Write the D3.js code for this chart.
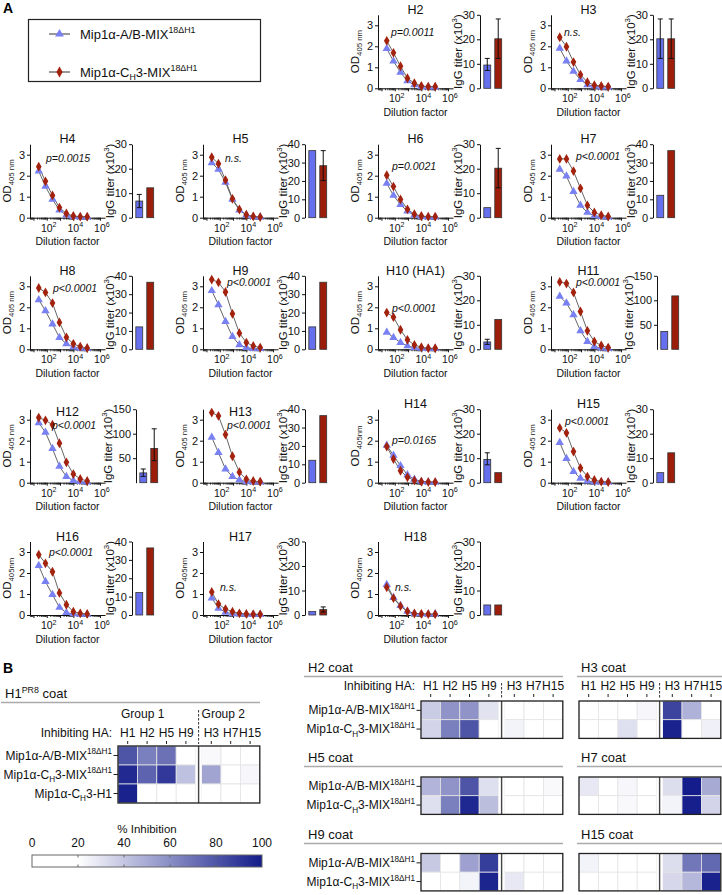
<!DOCTYPE html>
<html>
<head>
<meta charset="utf-8">
<script src="https://cdn.jsdelivr.net/npm/d3@7"></script>
<style>
  body { margin: 0; background: #fff; }
  svg { display: block; font-family: "Liberation Sans", Arial, sans-serif; }
</style>
</head>
<body>
<svg id="fig" width="722" height="895"></svg>
<script>
// ---------- data ----------
const panels = ["H2", "H3", "H4", "H5", "H6", "H7", "H8", "H9", "H10", "H11", "H12", "H13", "H14", "H15", "H16", "H17", "H18"];
const panelTitles = ["H2", "H3", "H4", "H5", "H6", "H7", "H8", "H9", "H10 (HA1)", "H11", "H12", "H13", "H14", "H15", "H16", "H17", "H18"];
const pLabels = ["p=0.0011", "n.s.", "p=0.0015", "n.s.", "p=0.0021", "p<0.0001", "p<0.0001", "p<0.0001", "p<0.0001",
  "p<0.0001", "p<0.0001", "p<0.0001", "p=0.0165", "p<0.0001", "p<0.0001", "n.s.", "n.s."];

const dilutions = [25, 80, 270, 900, 3000, 10000, 33000, 110000];

// OD405 readings, Mip1α-A/B-MIX (blue)
const odAB = [
  [1.89, 1.29, 0.76, 0.35, 0.16, 0.08, 0.06, 0.06],
  [1.90, 1.30, 0.81, 0.41, 0.16, 0.10, 0.06, 0.06],
  [2.22, 1.49, 0.87, 0.36, 0.12, 0.05, 0.03, 0.03],
  [2.61, 2.30, 1.68, 0.87, 0.36, 0.12, 0.05, 0.03],
  [1.63, 1.06, 0.62, 0.31, 0.12, 0.05, 0.03, 0.03],
  [2.30, 1.98, 1.24, 0.59, 0.25, 0.09, 0.05, 0.03],
  [2.36, 1.83, 1.20, 0.56, 0.26, 0.10, 0.05, 0.03],
  [2.79, 2.12, 1.32, 0.61, 0.21, 0.08, 0.03, 0.03],
  [0.81, 0.56, 0.32, 0.16, 0.08, 0.05, 0.03, 0.03],
  [2.52, 2.20, 1.64, 0.88, 0.37, 0.13, 0.06, 0.03],
  [2.85, 2.40, 1.62, 0.78, 0.29, 0.10, 0.05, 0.03],
  [2.16, 1.43, 0.65, 0.29, 0.13, 0.05, 0.03, 0.03],
  [1.78, 1.30, 0.81, 0.37, 0.16, 0.06, 0.03, 0.03],
  [1.91, 1.15, 0.53, 0.21, 0.08, 0.03, 0.03, 0.03],
  [2.35, 1.59, 0.97, 0.36, 0.11, 0.05, 0.03, 0.03],
  [0.81, 0.32, 0.13, 0.06, 0.05, 0.03, 0.03, 0.03],
  [1.45, 0.83, 0.45, 0.17, 0.07, 0.05, 0.04, 0.04]
];
// OD405 readings, Mip1α-CH3-MIX (red)
const odCH3 = [
  [2.26, 1.69, 1.05, 0.48, 0.24, 0.11, 0.08, 0.08],
  [2.43, 1.98, 1.25, 0.65, 0.29, 0.15, 0.11, 0.08],
  [2.43, 1.73, 1.06, 0.48, 0.20, 0.08, 0.05, 0.05],
  [2.88, 2.57, 1.79, 0.90, 0.39, 0.14, 0.06, 0.03],
  [2.02, 1.48, 0.87, 0.40, 0.17, 0.08, 0.05, 0.05],
  [2.80, 2.80, 2.22, 1.40, 0.59, 0.25, 0.12, 0.06],
  [2.92, 2.71, 2.20, 1.28, 0.57, 0.26, 0.13, 0.06],
  [3.32, 3.19, 2.73, 1.69, 0.77, 0.32, 0.16, 0.08],
  [1.75, 1.53, 0.93, 0.45, 0.21, 0.10, 0.05, 0.05],
  [3.21, 3.13, 2.71, 1.80, 0.88, 0.37, 0.18, 0.08],
  [3.10, 2.97, 2.76, 1.88, 0.97, 0.41, 0.18, 0.08],
  [3.34, 3.18, 2.29, 1.26, 0.50, 0.16, 0.08, 0.05],
  [1.72, 1.13, 0.57, 0.26, 0.11, 0.05, 0.03, 0.03],
  [2.61, 2.37, 1.48, 0.70, 0.29, 0.13, 0.05, 0.03],
  [2.87, 2.46, 2.06, 1.05, 0.49, 0.16, 0.08, 0.05],
  [1.10, 0.52, 0.28, 0.16, 0.08, 0.05, 0.03, 0.03],
  [1.32, 0.80, 0.42, 0.17, 0.07, 0.05, 0.04, 0.04]
];

// IgG titers (x10^3)
const titerAB  = [9.5, 20.2, 6.8, 36.5, 4.1, 12.2, 12.2, 12.2, 3.0, 36.5, 20, 12.2, 9.5, 4.1, 12.2, 1.4, 4.1];
const titerCH3 = [20.2, 20.2, 12.2, 28.3, 20.2, 36.5, 36.5, 36.5, 12.2, 109, 70, 36.5, 4.1, 12.2, 36.5, 2.2, 4.1];
const errAB  = [[7.3, 12.2], [12.2, 28.3], [4.1, 9.5], null, null, null, null, null, [2.0, 4.1], null, [13, 28], null, [7.3, 12.2], null, null, null, null];
const errCH3 = [[12.2, 28.3], [12.2, 28.3], null, [20.2, 36.5], [12.2, 28.3], null, null, null, null, null, [45, 110], null, null, null, null, [1.2, 3.3], null];
const titerMax = [30, 30, 30, 40, 30, 40, 40, 40, 30, 150, 150, 40, 30, 30, 40, 30, 30];

// % inhibition heat maps
const inhibitingHA = ["H1", "H2", "H5", "H9", "H3", "H7", "H15"];
const inhH1PR8 = [[80, 65, 70, 5, 22, 0, 0], [95, 75, 90, 42, 52, 0, 23], [98, 0, 0, 0, 0, 0, 0]];
const inhH2  = [[38, 58, 58, 30, 0, 0, 0], [35, 65, 80, 0, 24, 0, 0]];
const inhH3  = [[0, 0, 0, 23, 86, 47, 0], [0, 0, 31, 0, 98, 0, 25]];
const inhH5  = [[46, 58, 80, 31, 0, 0, 22], [31, 65, 96, 43, 0, 0, 0]];
const inhH7  = [[28, 0, 23, 0, 32, 100, 50], [0, 0, 22, 0, 24, 99, 35]];
const inhH9  = [[39, 0, 53, 88, 0, 0, 0], [0, 0, 24, 97, 28, 0, 0]];
const inhH15 = [[24, 0, 0, 0, 32, 68, 73], [0, 0, 0, 0, 34, 45, 98]];
const colorbarTicks = [0, 20, 40, 60, 80, 100];

// ---------- layout ----------
const svg = d3.select("#fig");
const BLUE = "#7880f2", RED = "#a3220e", BAR_BLUE = "#6670ee", BAR_RED = "#9c1d0a";
const LW = 75, LH = 73.5, ODMAX = 3.5;
const colX = [30, 203, 378, 551];
const rowZero = [88.3, 217.7, 349.3, 482.7, 615];
const gridPos = [[0, 2], [0, 3], [1, 0], [1, 1], [1, 2], [1, 3], [2, 0], [2, 1], [2, 2], [2, 3], [3, 0], [3, 1], [3, 2], [3, 3], [4, 0], [4, 1], [4, 2]];
// title drop below the axis top (px), p-label placement: [px from y axis, OD level]
const titleDrop = [0, 0, 0, 0, 0, 0, 0, 0, 0, 0, 8, 8, 0, 0, 0, 0, 0];
const pLabelPos = [[13, 2.48], [13, 2.48], [16, 2.64], [22, 2.64], [14, 2.27], [25, 2.75], [23, 2.74], [24, 3.0], [14, 1.78],
  [25, 3.0], [22, 2.58], [24, 2.58], [14, 1.83], [14, 2.77], [19, 2.8], [17, 1.13], [17, 1.13]];
const odNoSpace = ["H14", "H16", "H17", "H18"];

// text with sub/superscripts: parts = [[text, "sup"|"sub"|undefined], ...]
function rich(text, parts, size) {
  let cur = 0;
  parts.forEach(([t, k]) => {
    const tgt = k === "sup" ? -0.42 * size : k === "sub" ? 0.3 * size : 0;
    text.append("tspan")
      .attr("dy", (tgt - cur).toFixed(2))
      .attr("font-size", k ? size * 0.68 : size)
      .text(t);
    cur = tgt;
  });
  return text;
}

function styleAxis(ax, size) {
  ax.attr("font-family", null).attr("font-size", size);
  ax.selectAll("path, line").attr("stroke", "#111").attr("stroke-width", 1);
  ax.selectAll("text").attr("fill", "#111");
}

// ---------- panel A ----------
svg.append("text").attr("x", 3).attr("y", 13).attr("font-size", 14).attr("font-weight", "bold").text("A");

// legend
const leg = svg.append("g");
leg.append("rect").attr("x", 28.5).attr("y", 19.5).attr("width", 232).attr("height", 62)
  .attr("fill", "none").attr("stroke", "#222").attr("stroke-width", 1.2);
[[BLUE, d3.symbolTriangle, 34, [["Mip1α-A/B-MIX"], ["18ΔH1", "sup"]]],
 [RED, d3.symbolDiamond, 72, [["Mip1α-C"], ["H", "sub"], ["3-MIX"], ["18ΔH1", "sup"]]]]
  .forEach(([col, sym, yy, parts]) => {
    leg.append("line").attr("x1", 49).attr("x2", 70).attr("y1", yy).attr("y2", yy).attr("stroke", "#333").attr("stroke-width", 1);
    leg.append("path").attr("d", d3.symbol(sym).size(34)).attr("transform", `translate(59.5,${yy})`).attr("fill", col);
    rich(leg.append("text").attr("x", 80).attr("y", yy + 4.5).attr("fill", "#111"), parts, 13);
  });

function drawPanel(i) {
  const [r, c] = gridPos[i];
  const g = svg.append("g").attr("transform", `translate(${colX[c]},${rowZero[r] - LH})`);
  const x = d3.scaleLog().domain([10 ** 0.74, 10 ** 6.38]).range([0, LW]);
  const y = d3.scaleLinear().domain([0, ODMAX]).range([LH, 0]);

  g.append("text").attr("x", LW / 2).attr("y", -1 + titleDrop[i]).attr("text-anchor", "middle")
    .attr("font-size", 12.5).attr("fill", "#111").text(panelTitles[i]);

  const ya = g.append("g").call(d3.axisLeft(y).tickValues([0, 1, 2, 3]).tickSize(3).tickSizeOuter(0).tickPadding(2).tickFormat(d3.format("d")));
  styleAxis(ya, 11);

  const xa = g.append("g").attr("transform", `translate(0,${LH})`)
    .call(d3.axisBottom(x).tickValues([10, 100, 1e3, 1e4, 1e5, 1e6]).tickSize(3).tickSizeOuter(0).tickFormat(""));
  styleAxis(xa, 10);
  const minors = [];
  for (let k = 0; k < 6; k++) for (let m = 2; m < 10; m++) {
    const v = m * 10 ** k;
    if (v > x.domain()[0] && v < x.domain()[1]) minors.push(v);
  }
  xa.selectAll("line.minor").data(minors).join("line").attr("class", "minor")
    .attr("x1", d => x(d)).attr("x2", d => x(d)).attr("y1", 0).attr("y2", 2)
    .attr("stroke", "#111").attr("stroke-width", 0.8);
  [2, 4, 6].forEach(e => {
    rich(g.append("text").attr("x", x(10 ** e) + 2).attr("y", LH + 14).attr("text-anchor", "middle").attr("fill", "#111"),
      [["10"], [String(e), "sup"]], 10.5);
  });
  g.append("text").attr("x", LW / 2).attr("y", LH + 27.5).attr("text-anchor", "middle")
    .attr("font-size", 10.5).attr("fill", "#111").text("Dilution factor");

  const sub = odNoSpace.includes(panels[i]) ? "405nm" : "405 nm";
  rich(g.append("text").attr("transform", `translate(-19,${LH / 2}) rotate(-90)`).attr("text-anchor", "middle").attr("fill", "#111"),
    [["OD"], [sub, "sub"]], 11.5);

  const line = d3.line().x(d => x(d[0])).y(d => y(d[1]));
  [odAB[i], odCH3[i]].forEach(vals => {
    g.append("path").datum(dilutions.map((d, j) => [d, vals[j]])).attr("d", line)
      .attr("fill", "none").attr("stroke", "#555").attr("stroke-width", 0.9);
  });
  g.selectAll("path.ab").data(dilutions.map((d, j) => [d, odAB[i][j]])).join("path").attr("class", "ab")
    .attr("d", d3.symbol(d3.symbolTriangle).size(30)).attr("fill", BLUE)
    .attr("transform", d => `translate(${x(d[0])},${y(d[1])})`);
  g.selectAll("path.ch").data(dilutions.map((d, j) => [d, odCH3[i][j]])).join("path").attr("class", "ch")
    .attr("d", d3.symbol(d3.symbolDiamond).size(28)).attr("fill", RED)
    .attr("transform", d => `translate(${x(d[0])},${y(d[1])})`);

  g.append("text").attr("x", pLabelPos[i][0]).attr("y", y(pLabelPos[i][1])).attr("font-size", 10.5)
    .attr("font-style", "italic").attr("fill", "#111").text(pLabels[i]);

  // bar chart of titers
  const wide = titerMax[i] > 100;
  const bg = g.append("g").attr("transform", `translate(${wide ? 106 : 102},0)`);
  const by = d3.scaleLinear().domain([0, titerMax[i]]).range([LH, 0]);
  const bx = d3.scaleBand().domain(["ab", "ch"]).range([2.5, 23]).paddingInner(0.37).paddingOuter(0.12);
  const ticks = wide ? [50, 100, 150] : d3.range(0, titerMax[i] + 1, 10);
  const ba = bg.append("g").call(d3.axisLeft(by).tickValues(ticks).tickSize(3).tickSizeOuter(0).tickPadding(2));
  styleAxis(ba, 11);
  const bars = [["ab", titerAB[i], errAB[i], BAR_BLUE], ["ch", titerCH3[i], errCH3[i], BAR_RED]];
  bars.forEach(([k, v, err, col]) => {
    bg.append("rect").attr("x", bx(k)).attr("width", bx.bandwidth()).attr("y", by(v)).attr("height", LH - by(v))
      .attr("fill", col).attr("stroke", "#333").attr("stroke-width", 0.8);
    if (err) {
      const cx = bx(k) + bx.bandwidth() / 2;
      const eb = bg.append("g").attr("stroke", "#111").attr("stroke-width", 1);
      eb.append("line").attr("x1", cx).attr("x2", cx).attr("y1", by(err[0])).attr("y2", by(err[1]));
      [err[0], err[1]].forEach(e => eb.append("line").attr("x1", cx - 2.5).attr("x2", cx + 2.5).attr("y1", by(e)).attr("y2", by(e)));
    }
  });
  rich(bg.append("text").attr("transform", `translate(${wide ? -24 : -18},${LH / 2}) rotate(-90)`).attr("text-anchor", "middle").attr("fill", "#111"),
    [["IgG titer (x10"], ["3", "sup"], [")"]], 11.5);
}
panels.forEach((p, i) => drawPanel(i));

// ---------- panel B ----------
svg.append("text").attr("x", 3).attr("y", 673).attr("font-size", 14).attr("font-weight", "bold").text("B");

const heatColor = d3.scaleLinear().domain([20, 100]).range(["#ffffff", "#131c8a"]).clamp(true);
const CW = 19.4, GAP = 6, NW = 7 * CW + GAP;
const cellX = j => j < 4 ? j * CW : 4 * CW + GAP + (j - 4) * CW;
const divX = 4 * CW + GAP / 2;
const rowLabels = [
  [["Mip1α-A/B-MIX"], ["18ΔH1", "sup"]],
  [["Mip1α-C"], ["H", "sub"], ["3-MIX"], ["18ΔH1", "sup"]],
  [["Mip1α-C"], ["H", "sub"], ["3-H1"]]
];

function section(x, yBase, lineX2, parts) {
  rich(svg.append("text").attr("x", x).attr("y", yBase).attr("fill", "#111"), parts, 13);
  svg.append("line").attr("x1", x - 4).attr("x2", lineX2).attr("y1", yBase + 4.5).attr("y2", yBase + 4.5)
    .attr("stroke", "#aaa").attr("stroke-width", 1.6);
}

function heat(x0, y0, ch, vals, opt) {
  const g = svg.append("g").attr("transform", `translate(${x0},${y0})`);
  const hh = ch * vals.length;
  vals.forEach((row, ri) => row.forEach((v, j) => {
    g.append("rect").attr("x", cellX(j)).attr("y", ri * ch).attr("width", CW).attr("height", ch)
      .attr("fill", heatColor(v)).attr("stroke", "#e4e4e4").attr("stroke-width", 0.8);
  }));
  g.append("rect").attr("x", cellX(3) + CW).attr("y", 0).attr("width", GAP).attr("height", hh).attr("fill", "#fff");
  g.append("line").attr("x1", divX).attr("x2", divX).attr("y1", 0).attr("y2", hh).attr("stroke", "#444").attr("stroke-width", 1.4);
  g.append("rect").attr("x", 0).attr("y", 0).attr("width", NW).attr("height", hh)
    .attr("fill", "none").attr("stroke", "#222").attr("stroke-width", 1.3);
  if (opt.rows) {
    vals.forEach((row, ri) => {
      const cy = ri * ch + ch / 2;
      rich(g.append("text").attr("x", -6).attr("y", cy + 4).attr("text-anchor", "end").attr("fill", "#111"), rowLabels[ri], 12);
      g.append("line").attr("x1", -4.5).attr("x2", 0).attr("y1", cy).attr("y2", cy).attr("stroke", "#222");
    });
  }
  if (opt.cols) {
    inhibitingHA.forEach((h, j) => {
      const cx = cellX(j) + CW / 2;
      g.append("text").attr("x", cx).attr("y", -opt.colGap).attr("text-anchor", "middle").attr("font-size", 12).attr("fill", "#111").text(h);
      g.append("line").attr("x1", cx).attr("x2", cx).attr("y1", -opt.colGap + 4).attr("y2", -opt.colGap + 7).attr("stroke", "#222");
    });
    g.append("line").attr("x1", divX).attr("x2", divX).attr("y1", -opt.dashTop).attr("y2", -2)
      .attr("stroke", "#333").attr("stroke-width", 1).attr("stroke-dasharray", "2.5,1.5");
    if (opt.inhib) g.append("text").attr("x", -6).attr("y", -opt.colGap).attr("text-anchor", "end").attr("font-size", 12).attr("fill", "#111").text("Inhibiting HA:");
    if (opt.groups) {
      g.append("text").attr("x", 3).attr("y", -28).attr("font-size", 12).attr("fill", "#111").text("Group 1");
      g.append("text").attr("x", divX + 3).attr("y", -28).attr("font-size", 12).attr("fill", "#111").text("Group 2");
    }
  }
}

// H1 PR8 coat
section(5, 698, 260, [["H1"], ["PR8", "sup"], [" coat"]]);
heat(118, 746, 19, inhH1PR8, { rows: true, cols: true, inhib: true, groups: true, colGap: 9, dashTop: 36 });

// right column sections
section(308, 672, 563, [["H2 coat"]]);
section(581, 672, 722, [["H3 coat"]]);
heat(421, 701, 18.7, inhH2, { rows: true, cols: true, inhib: true, colGap: 11, dashTop: 18 });
heat(579, 701, 18.7, inhH3, { rows: false, cols: true, colGap: 11, dashTop: 18 });

section(308, 762, 563, [["H5 coat"]]);
section(581, 762, 722, [["H7 coat"]]);
heat(421, 777, 18.7, inhH5, { rows: true });
heat(579, 777, 18.7, inhH7, { rows: false });

section(308, 839, 563, [["H9 coat"]]);
section(581, 839, 722, [["H15 coat"]]);
heat(421, 853.5, 18.7, inhH9, { rows: true });
heat(579, 853.5, 18.7, inhH15, { rows: false });

// colour bar
const cb = svg.append("g").attr("transform", "translate(32,855)");
const cbx = d3.scaleLinear().domain([0, 100]).range([0, 230]);
const grad = svg.append("defs").append("linearGradient").attr("id", "inhGrad");
d3.range(0, 101, 5).forEach(v => grad.append("stop").attr("offset", `${v}%`).attr("stop-color", heatColor(v)));
cb.append("rect").attr("width", 230).attr("height", 12).attr("fill", "url(#inhGrad)").attr("stroke", "#666").attr("stroke-width", 1);
colorbarTicks.forEach(t => {
  cb.append("text").attr("x", cbx(t)).attr("y", -8).attr("text-anchor", "middle").attr("font-size", 12).attr("fill", "#111").text(t);
  if (t > 0 && t < 100) {
    cb.append("line").attr("x1", cbx(t)).attr("x2", cbx(t)).attr("y1", 0).attr("y2", 2.5).attr("stroke", "#666");
    cb.append("line").attr("x1", cbx(t)).attr("x2", cbx(t)).attr("y1", 9.5).attr("y2", 12).attr("stroke", "#666");
  }
});
cb.append("text").attr("x", cbx(50)).attr("y", -22).attr("text-anchor", "middle").attr("font-size", 11.5).attr("fill", "#111").text("% Inhibition");
</script>
</body>
</html>
